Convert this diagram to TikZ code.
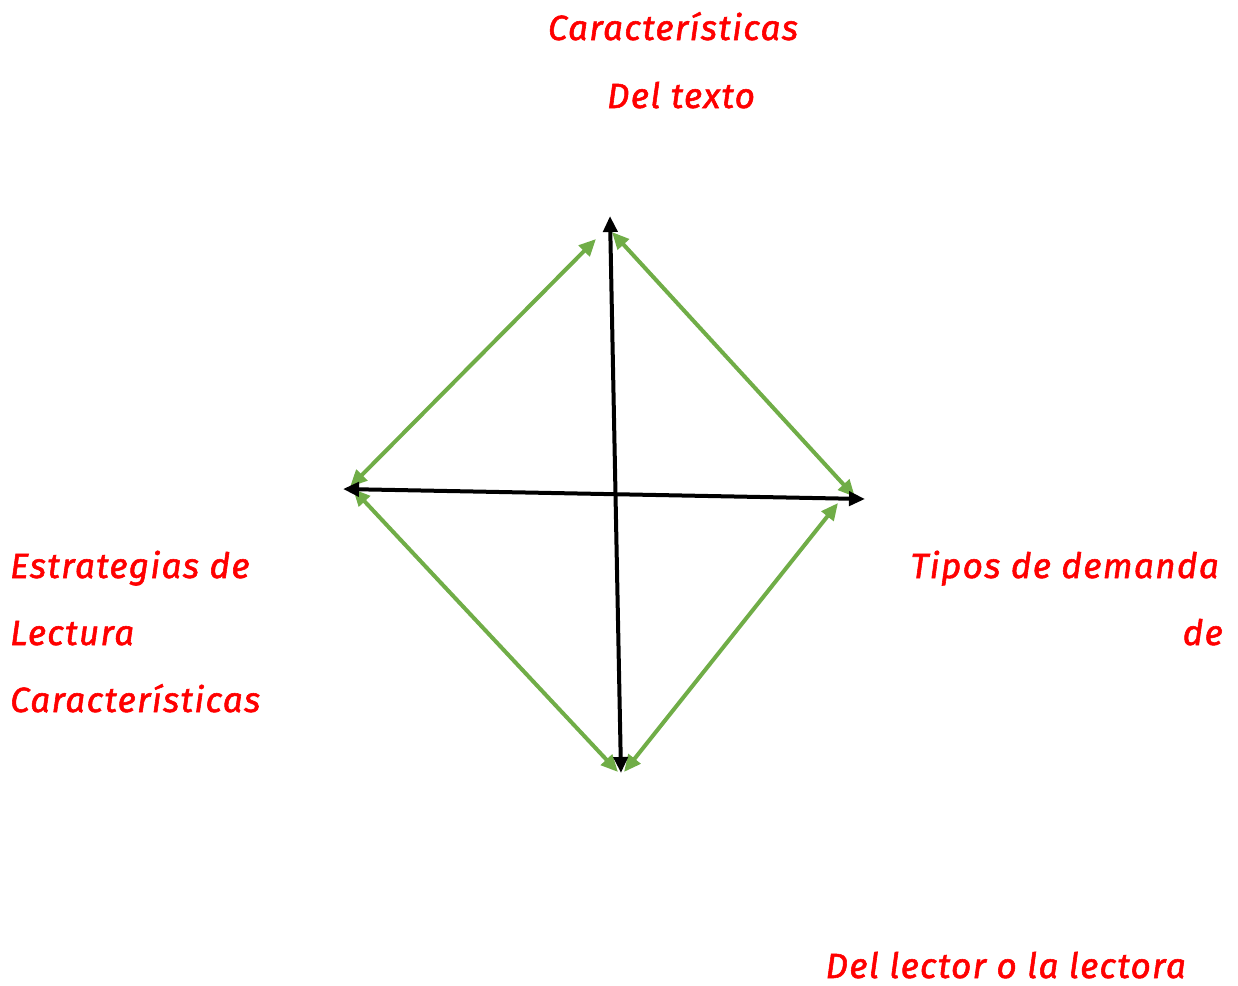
\documentclass[tikz,border=0pt]{standalone}
\usepackage{fontspec}
\newfontfamily\lblfont{Fira Sans}[FakeBold=1.6,LetterSpace=4]
\usetikzlibrary{arrows.meta}
\definecolor{grn}{HTML}{70AD47}
\tikzset{
  lbl/.style={text=red, font=\lblfont\itshape\fontsize{35}{35}\selectfont, inner sep=0pt},
  blk/.style={line width=4pt, black, {Triangle[length=16pt,width=14pt]}-{Triangle[length=16pt,width=14pt]}},
  gr/.style={line width=4pt, grn, {Triangle[length=17pt,width=15pt]}-{Triangle[length=17pt,width=15pt]}}
}
\begin{document}
\begin{tikzpicture}[x=1pt,y=-1pt]
\useasboundingbox (0,0) rectangle (1238,985);
% points
\coordinate (top) at (610,216);
\coordinate (bot) at (621,773);
\coordinate (lft) at (343,489);
\coordinate (rgt) at (865,499);
\coordinate (g1a) at (350,487);
\coordinate (g1b) at (596,239);
\coordinate (g2a) at (612,232);
\coordinate (g2b) at (855,497);
\coordinate (g3a) at (353,489);
\coordinate (g3b) at (618,772);
\coordinate (g4a) at (624,772);
\coordinate (g4b) at (838,503);
\draw[gr] (g1a) -- (g1b);
\draw[gr] (g2a) -- (g2b);
\draw[gr] (g3a) -- (g3b);
\draw[gr] (g4a) -- (g4b);
\draw[blk] (bot) -- (top);
\draw[blk] (lft) -- (rgt);
% labels
\node[lbl, anchor=base] (t1) at (673,40) {Características};
\node[lbl, anchor=base] (t2) at (681,108) {Del texto};
\node[lbl, anchor=base west] (l1) at (10,578) {Estrategias de};
\node[lbl, anchor=base west] (l2) at (10,645) {Lectura};
\node[lbl, anchor=base west] (l3) at (10,712) {Características};
\node[lbl, anchor=base east] (r1) at (1219,578) {Tipos de demanda};
\node[lbl, anchor=base east] (r2) at (1223,645) {de};
\node[lbl, anchor=base east] (b1) at (1186,978) {Del lector o la lectora};
\end{tikzpicture}
\end{document}
